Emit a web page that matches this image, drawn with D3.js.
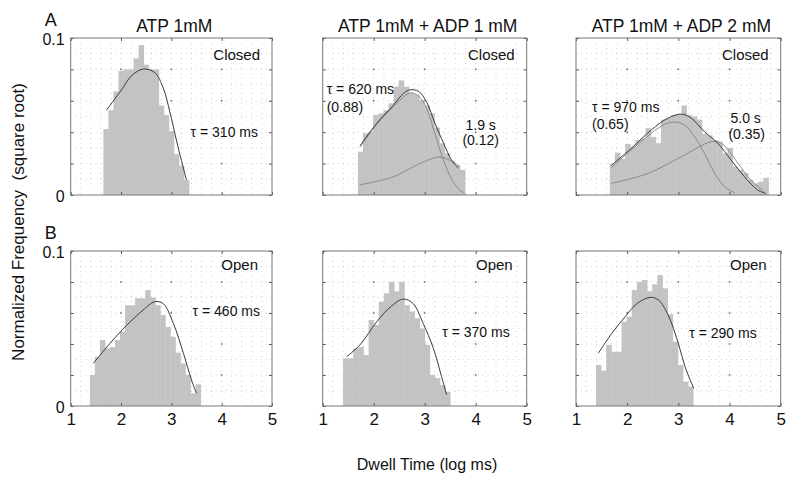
<!DOCTYPE html>
<html><head><meta charset="utf-8">
<script src="https://cdn.jsdelivr.net/npm/d3@7"></script>
<style>
body{margin:0;background:#fff}
text{font-family:"Liberation Sans",Arial,Helvetica,sans-serif;fill:#111}
</style>
</head><body>
<svg id="c" width="800" height="480"></svg>
<script>
// ---------- data ----------
const conditions = ["ATP 1mM", "ATP 1mM + ADP 1 mM", "ATP 1mM + ADP 2 mM"];
const rowLabels = ["A", "B"];
const stateLabels = ["Closed", "Open"];
const xTickValues = [1, 2, 3, 4, 5];
const yTickValues = [0, 0.02, 0.04, 0.06, 0.08, 0.1];
const yLabelValues = [0, 0.1];
const yLabelTexts = ["0", "0.1"];
const binWidth = 0.1;
const closedBinStart = [1.65, 1.69, 1.66];
const openBinStart = [1.38, 1.40, 1.39];

const closedHist1 = [0.042,0.054,0.066,0.079,0.080,0.080,0.087,0.0955,0.083,0.080,0.080,0.057,0.051,0.0406,0.026,0.0187,0.0096];
const closedHist2 = [0.0276,0.0394,0.040,0.051,0.052,0.054,0.0584,0.069,0.073,0.069,0.065,0.064,0.0605,0.057,0.052,0.043,0.033,0.0266,0.022,0.019,0.016];
const closedHist3 = [0.020,0.027,0.023,0.0325,0.0308,0.035,0.036,0.0425,0.037,0.033,0.048,0.049,0.051,0.051,0.057,0.051,0.050,0.048,0.039,0.038,0.035,0.034,0.0265,0.030,0.018,0.016,0.014,0.0096,0.0074,0.0085,0.011];
const openHist1 = [0.020,0.0318,0.0426,0.0372,0.038,0.0426,0.048,0.065,0.065,0.0695,0.0695,0.0748,0.070,0.065,0.0587,0.051,0.0447,0.0344,0.0275,0.020,0.0082,0.014];
const openHist2 = [0.0308,0.0308,0.0372,0.038,0.0329,0.0555,0.0523,0.0673,0.0727,0.080,0.074,0.080,0.065,0.061,0.0566,0.050,0.0394,0.020,0.018,0.0135,0.0092];
const openHist3 = [0.0265,0.0228,0.0394,0.035,0.035,0.0544,0.0576,0.0748,0.080,0.0813,0.074,0.0785,0.0845,0.0759,0.0592,0.0415,0.0265,0.0157,0.0125];

const closedFit1 = [[1.71,0.054],[2.01,0.067],[2.21,0.076],[2.44,0.0802],[2.67,0.078],[2.84,0.068],[2.97,0.053],[3.10,0.035],[3.20,0.022],[3.30,0.0096]];
const closedFit2Total = [[1.73,0.0312],[2.06,0.0457],[2.38,0.057],[2.58,0.0646],[2.71,0.067],[2.88,0.066],[3.04,0.059],[3.20,0.0457],[3.37,0.033],[3.53,0.022],[3.66,0.017]];
const closedFit2Fast = [[1.73,0.0305],[2.06,0.045],[2.38,0.056],[2.71,0.065],[2.88,0.063],[3.04,0.055],[3.20,0.039],[3.37,0.022],[3.53,0.010],[3.66,0.004],[3.78,0.001]];
const closedFit2Slow = [[1.73,0.0064],[2.38,0.0115],[2.71,0.0168],[3.04,0.022],[3.30,0.0242],[3.50,0.022],[3.69,0.018]];
const closedFit3Total = [[1.695,0.019],[2.08,0.0297],[2.47,0.0414],[2.80,0.049],[3.06,0.0515],[3.25,0.049],[3.51,0.0403],[3.77,0.033],[4.03,0.0223],[4.29,0.0117],[4.55,0.0032],[4.71,0.001]];
const closedFit3Fast = [[1.695,0.0175],[2.08,0.0287],[2.47,0.0393],[2.73,0.045],[2.93,0.0465],[3.12,0.0446],[3.32,0.037],[3.51,0.0265],[3.71,0.0138],[3.90,0.0053],[4.10,0.0015]];
const closedFit3Slow = [[1.695,0.0074],[2.41,0.0138],[3.06,0.0244],[3.64,0.0339],[3.84,0.033],[4.16,0.0205],[4.42,0.0093],[4.68,0.0020]];
const openFit1 = [[1.45,0.0275],[1.78,0.0404],[2.11,0.052],[2.44,0.0619],[2.67,0.0673],[2.84,0.066],[3.04,0.0533],[3.24,0.034],[3.40,0.0168],[3.50,0.0082]];
const openFit2 = [[1.47,0.0318],[1.73,0.0394],[2.06,0.0544],[2.35,0.0645],[2.58,0.069],[2.77,0.0662],[2.97,0.0533],[3.17,0.0372],[3.33,0.019],[3.43,0.0071]];
const openFit3 = [[1.436,0.034],[1.70,0.0469],[1.96,0.0576],[2.19,0.066],[2.45,0.0701],[2.61,0.0684],[2.80,0.0587],[3.00,0.0404],[3.13,0.0254],[3.30,0.0114]];

const closedNotes1 = ["τ = 310 ms"];
const closedNotes2 = ["τ = 620 ms", "(0.88)", "1.9 s", "(0.12)"];
const closedNotes3 = ["τ = 970 ms", "(0.65)", "5.0 s", "(0.35)"];
const openNotes = ["τ = 460 ms", "τ = 370 ms", "τ = 290 ms"];

// ---------- layout ----------
const colX = [[70.7, 272], [322.7, 526.7], [576, 780.7]];
const rowY = [[38, 195], [251, 406]];

const panels = [
  {r:0,c:0,start:closedBinStart[0],hist:closedHist1,fits:[{d:closedFit1,k:"t"}],
   notes:[{t:closedNotes1[0],a:"end",dx:-14,dy:99}]},
  {r:0,c:1,start:closedBinStart[1],hist:closedHist2,fits:[{d:closedFit2Slow,k:"c"},{d:closedFit2Fast,k:"c"},{d:closedFit2Total,k:"t"}],
   notes:[{t:closedNotes2[0],a:"start",dx:4,dy:56},{t:closedNotes2[1],a:"start",dx:4,dy:74},
          {t:closedNotes2[2],a:"middle",dx:-46,dy:92},{t:closedNotes2[3],a:"middle",dx:-46,dy:107}]},
  {r:0,c:2,start:closedBinStart[2],hist:closedHist3,fits:[{d:closedFit3Slow,k:"c"},{d:closedFit3Fast,k:"c"},{d:closedFit3Total,k:"t"}],
   notes:[{t:closedNotes3[0],a:"start",dx:16,dy:74},{t:closedNotes3[1],a:"start",dx:16,dy:91},
          {t:closedNotes3[2],a:"middle",dx:-35,dy:85},{t:closedNotes3[3],a:"middle",dx:-34,dy:101}]},
  {r:1,c:0,start:openBinStart[0],hist:openHist1,fits:[{d:openFit1,k:"t"}],
   notes:[{t:openNotes[0],a:"end",dx:-12,dy:65}]},
  {r:1,c:1,start:openBinStart[1],hist:openHist2,fits:[{d:openFit2,k:"t"}],
   notes:[{t:openNotes[1],a:"end",dx:-17,dy:86}]},
  {r:1,c:2,start:openBinStart[2],hist:openHist3,fits:[{d:openFit3,k:"t"}],
   notes:[{t:openNotes[2],a:"end",dx:-24,dy:87}]}
];

const svg = d3.select("#c");
svg.append("rect").attr("width",800).attr("height",480).attr("fill","#fff");

panels.forEach(p => {
  const [x0, x1] = colX[p.c];
  const [y0, y1] = rowY[p.r];
  const xs = d3.scaleLinear().domain([1, 5]).range([x0, x1]);
  const ys = d3.scaleLinear().domain([0, 0.1]).range([y1, y0]);
  const g = svg.append("g");

  // minor dotted grid
  const gx = d3.range(1.2, 5, 0.2);
  const gy = d3.range(0.01, 0.1, 0.01);
  g.selectAll(".vg").data(gx).join("line")
    .attr("x1", d => xs(d)).attr("x2", d => xs(d)).attr("y1", y0).attr("y2", y1)
    .attr("stroke", "#c8c8c8").attr("stroke-width", 0.8).attr("stroke-dasharray", "1,4");
  g.selectAll(".hg").data(gy).join("line")
    .attr("x1", x0).attr("x2", x1).attr("y1", d => ys(d)).attr("y2", d => ys(d))
    .attr("stroke", "#c8c8c8").attr("stroke-width", 0.8).attr("stroke-dasharray", "1,4");
  // major intersections
  const maj = [];
  [2,3,4].forEach(a => [0.02,0.04,0.06,0.08].forEach(b => maj.push([a,b])));
  g.selectAll(".mj").data(maj).join("rect")
    .attr("x", d => xs(d[0]) - 0.75).attr("y", d => ys(d[1]) - 0.75)
    .attr("width", 1.5).attr("height", 1.5).attr("fill", "#666");

  // histogram bars
  g.selectAll(".bar").data(p.hist).join("rect")
    .attr("x", (d, i) => xs(p.start + i * binWidth))
    .attr("width", (d, i) => xs(p.start + (i + 1) * binWidth) - xs(p.start + i * binWidth) + 0.4)
    .attr("y", d => ys(d))
    .attr("height", d => ys(0) - ys(d))
    .attr("fill", "#c3c3c3");

  // fitted curves
  const line = d3.line().x(d => xs(d[0])).y(d => ys(d[1])).curve(d3.curveCatmullRom.alpha(0.5));
  p.fits.forEach(f => {
    g.append("path").attr("d", line(f.d)).attr("fill", "none")
      .attr("stroke", f.k === "t" ? "#3a3a3a" : "#8a8a8a")
      .attr("stroke-width", 1);
  });

  // axes (ticks inward)
  const axB = d3.axisBottom(xs).tickValues(xTickValues).tickSize(-3).tickPadding(7)
    .tickFormat(p.r === 1 ? d3.format("d") : () => "");
  const axT = d3.axisTop(xs).tickValues(xTickValues).tickSize(-3).tickFormat(() => "");
  const axL = d3.axisLeft(ys).tickValues(yTickValues).tickSize(-3).tickFormat(() => "");
  const axR = d3.axisRight(ys).tickValues(yTickValues).tickSize(-3).tickFormat(() => "");
  [[axB, `translate(0,${y1})`], [axT, `translate(0,${y0})`], [axL, `translate(${x0},0)`], [axR, `translate(${x1},0)`]]
    .forEach(([ax, tr]) => {
      const a = g.append("g").attr("transform", tr).call(ax);
      a.select(".domain").remove();
      a.selectAll(".tick line").attr("stroke", "#555");
      a.selectAll("text").attr("font-size", 17).attr("font-family", null).attr("fill", "#111");
    });
  g.append("rect").attr("x", x0).attr("y", y0).attr("width", x1 - x0).attr("height", y1 - y0)
    .attr("fill", "none").attr("stroke", "#777").attr("stroke-width", 1);

  // y labels on first column
  if (p.c === 0) {
    g.selectAll(".yl").data(yLabelValues).join("text")
      .attr("x", x0 - 6).attr("y", d => ys(d) + 6.5)
      .attr("text-anchor", "end").attr("font-size", 16)
      .text((d, i) => yLabelTexts[i]);
    svg.append("text").attr("x", x0 - 26).attr("y", y0 - 12)
      .attr("font-size", 18).text(rowLabels[p.r]);
  }
  // titles
  if (p.r === 0) {
    svg.append("text").attr("x", (x0 + x1) / 2 + 3).attr("y", 31.5)
      .attr("text-anchor", "middle").attr("font-size", 17.5).text(conditions[p.c]);
  }
  // state label
  g.append("text").attr("x", x1 - (p.r === 0 ? 12 : 14)).attr("y", y0 + (p.r === 0 ? 22 : 19))
    .attr("text-anchor", "end").attr("font-size", 15).text(stateLabels[p.r]);
  // notes
  p.notes.forEach(n => {
    g.append("text").attr("x", (n.a === "start" ? x0 : x1) + n.dx).attr("y", y0 + n.dy)
      .attr("text-anchor", n.a).attr("font-size", 14).text(n.t);
  });
});

svg.append("text").attr("transform", "translate(24,222) rotate(-90)")
  .attr("text-anchor", "middle").attr("font-size", 17)
  .style("white-space", "pre").text("Normalized Frequency  (square root)");
svg.append("text").attr("x", 427).attr("y", 470).attr("text-anchor", "middle")
  .attr("font-size", 16).text("Dwell Time (log ms)");
</script>
</body></html>
